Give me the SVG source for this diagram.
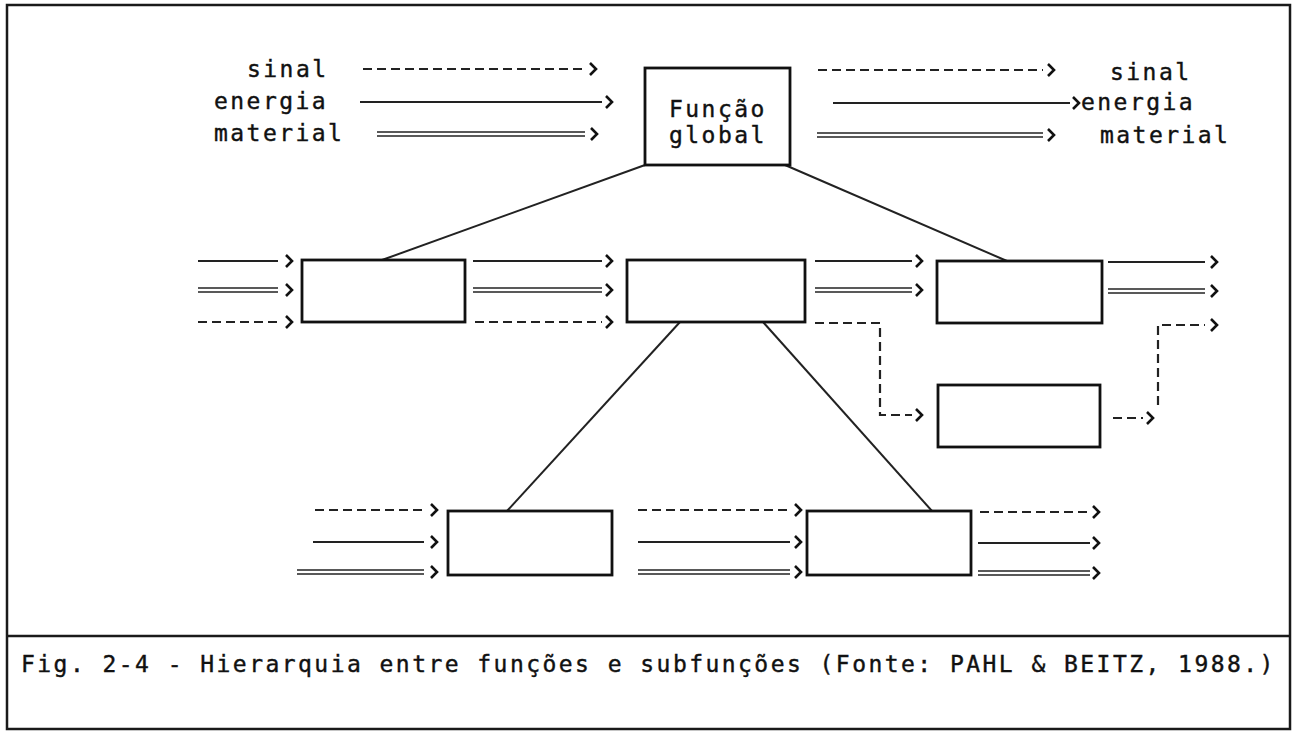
<svg xmlns="http://www.w3.org/2000/svg" width="1296" height="731" viewBox="0 0 1296 731">
<style>
.frame{fill:none;stroke:#1a1a1a;stroke-width:2.5}
.box{fill:#fff;stroke:#111;stroke-width:2.8}
.s{fill:none;stroke:#222;stroke-width:2}
.d{fill:none;stroke:#222;stroke-width:2.2;stroke-dasharray:9 5}
.db{fill:none;stroke:#222;stroke-width:1.6}
.ch{fill:none;stroke:#111;stroke-width:2.6;stroke-linejoin:miter}
.t{font-family:"DejaVu Sans Mono","Liberation Mono",monospace;font-size:23px;letter-spacing:2.45px;fill:#111;stroke:#111;stroke-width:0.4}
</style>
<rect width="1296" height="731" fill="#fff"/>
<rect class="frame" x="7" y="5" width="1283" height="724"/>
<line class="frame" x1="7" y1="636" x2="1290" y2="636"/>

<g id="connectors">
  <!-- top left -->
  <line class="d" x1="363" y1="69" x2="585" y2="69"/><path class="ch" d="M590 63 L596 69 L590 75"/>
  <line class="s" x1="360" y1="102" x2="602" y2="102"/><path class="ch" d="M606 96 L612 102 L606 108"/>
  <line class="db" x1="377" y1="132" x2="585" y2="132"/><line class="db" x1="377" y1="136" x2="585" y2="136"/><path class="ch" d="M591 128 L597 134 L591 140"/>
  <!-- top right -->
  <line class="d" x1="818" y1="70" x2="1043" y2="70"/><path class="ch" d="M1048 64 L1054 70 L1048 76"/>
  <line class="s" x1="833" y1="103" x2="1070" y2="103"/><path class="ch" d="M1073 97 L1079 103 L1073 109"/>
  <line class="db" x1="817" y1="133" x2="1043" y2="133"/><line class="db" x1="817" y1="137" x2="1043" y2="137"/><path class="ch" d="M1048 129 L1054 135 L1048 141"/>
  <!-- tree lines -->
  <line class="s" x1="645" y1="165" x2="382" y2="260"/>
  <line class="s" x1="785" y1="165" x2="1007" y2="261"/>
  <line class="s" x1="680" y1="322" x2="507" y2="511"/>
  <line class="s" x1="763" y1="322" x2="932" y2="511"/>
  <!-- middle row: left of box1 -->
  <line class="s" x1="198" y1="261" x2="278" y2="261"/><path class="ch" d="M286 255 L292 261 L286 267"/>
  <line class="db" x1="198" y1="288" x2="278" y2="288"/><line class="db" x1="198" y1="292" x2="278" y2="292"/><path class="ch" d="M286 284 L292 290 L286 296"/>
  <line class="d" x1="198" y1="322" x2="278" y2="322"/><path class="ch" d="M286 316 L292 322 L286 328"/>
  <!-- box1 to box2 -->
  <line class="s" x1="473" y1="261" x2="602" y2="261"/><path class="ch" d="M606 255 L612 261 L606 267"/>
  <line class="db" x1="473" y1="288" x2="602" y2="288"/><line class="db" x1="473" y1="292" x2="602" y2="292"/><path class="ch" d="M606 284 L612 290 L606 296"/>
  <line class="d" x1="475" y1="322" x2="602" y2="322"/><path class="ch" d="M606 316 L612 322 L606 328"/>
  <!-- box2 to box3 -->
  <line class="s" x1="815" y1="261" x2="912" y2="261"/><path class="ch" d="M916 255 L922 261 L916 267"/>
  <line class="db" x1="815" y1="288" x2="912" y2="288"/><line class="db" x1="815" y1="292" x2="912" y2="292"/><path class="ch" d="M916 284 L922 290 L916 296"/>
  <!-- box2 to box4 (dashed) -->
  <path class="d" d="M815 323 L880 323 L880 415 L912 415"/><path class="ch" d="M916 409 L922 415 L916 421"/>
  <!-- right of box3 -->
  <line class="s" x1="1108" y1="262" x2="1205" y2="262"/><path class="ch" d="M1211 256 L1217 262 L1211 268"/>
  <line class="db" x1="1108" y1="289" x2="1205" y2="289"/><line class="db" x1="1108" y1="293" x2="1205" y2="293"/><path class="ch" d="M1211 285 L1217 291 L1211 297"/>
  <!-- box4 out -->
  <line class="d" x1="1113" y1="418" x2="1143" y2="418"/><path class="ch" d="M1147 412 L1153 418 L1147 424"/>
  <path class="d" d="M1158 405 L1158 325 L1205 325"/><path class="ch" d="M1211 319 L1217 325 L1211 331"/>
  <!-- bottom row: left of box5 -->
  <line class="d" x1="315" y1="510" x2="424" y2="510"/><path class="ch" d="M431 504 L437 510 L431 516"/>
  <line class="s" x1="313" y1="542" x2="424" y2="542"/><path class="ch" d="M431 536 L437 542 L431 548"/>
  <line class="db" x1="297" y1="570" x2="424" y2="570"/><line class="db" x1="297" y1="574" x2="424" y2="574"/><path class="ch" d="M431 566 L437 572 L431 578"/>
  <!-- box5 to box6 -->
  <line class="d" x1="638" y1="510" x2="790" y2="510"/><path class="ch" d="M795 504 L801 510 L795 516"/>
  <line class="s" x1="638" y1="542" x2="790" y2="542"/><path class="ch" d="M795 536 L801 542 L795 548"/>
  <line class="db" x1="638" y1="570" x2="790" y2="570"/><line class="db" x1="638" y1="574" x2="790" y2="574"/><path class="ch" d="M795 566 L801 572 L795 578"/>
  <!-- right of box6 -->
  <line class="d" x1="980" y1="512" x2="1088" y2="512"/><path class="ch" d="M1093 506 L1099 512 L1093 518"/>
  <line class="s" x1="978" y1="543" x2="1090" y2="543"/><path class="ch" d="M1093 537 L1099 543 L1093 549"/>
  <line class="db" x1="978" y1="571" x2="1090" y2="571"/><line class="db" x1="978" y1="575" x2="1090" y2="575"/><path class="ch" d="M1093 567 L1099 573 L1093 579"/>
</g>

<g id="labels-in">
  <text class="t" x="247" y="77">sinal</text>
  <text class="t" x="214" y="109">energia</text>
  <text class="t" x="214" y="141">material</text>
</g>
<g id="labels-out">
  <text class="t" x="1110" y="80">sinal</text>
  <text class="t" x="1081" y="110">energia</text>
  <text class="t" x="1100" y="143">material</text>
</g>

<g id="global">
  <rect class="box" x="645" y="68" width="145" height="97"/>
  <text class="t" x="669" y="117">Função</text>
  <text class="t" x="669" y="143">global</text>
</g>
<g id="sub1"><rect class="box" x="302" y="260" width="163" height="62"/></g>
<g id="sub2"><rect class="box" x="627" y="260" width="178" height="62"/></g>
<g id="sub3"><rect class="box" x="937" y="261" width="165" height="62"/></g>
<g id="sub4"><rect class="box" x="938" y="385" width="162" height="62"/></g>
<g id="sub5"><rect class="box" x="448" y="511" width="164" height="64"/></g>
<g id="sub6"><rect class="box" x="807" y="511" width="164" height="64"/></g>

<g id="caption">
  <text class="t" x="21" y="672">Fig. 2-4 - Hierarquia entre funções e subfunções (Fonte: PAHL &amp; BEITZ, 1988.)</text>
</g>
</svg>
